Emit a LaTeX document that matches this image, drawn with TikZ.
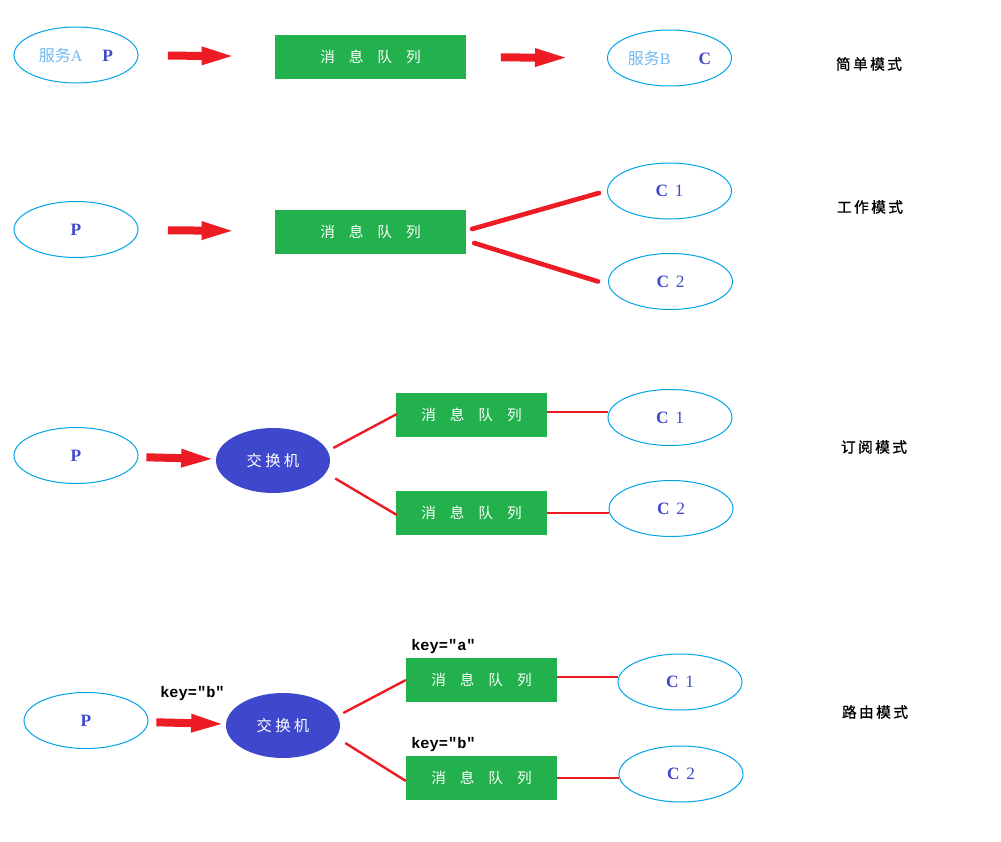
\documentclass[tikz,border=0pt]{standalone}
\usepackage{fontspec}
\setmainfont{Liberation Serif}
\newfontfamily\cjk{Noto Sans CJK SC}
\newfontfamily\cjkbold[FakeBold=1.2]{Noto Sans CJK SC}
\newfontfamily\keyfont[Ligatures=TeXOff]{Liberation Mono}
\usetikzlibrary{arrows.meta,shapes.geometric}
\definecolor{qgreen}{RGB}{34,177,76}
\definecolor{qred}{RGB}{237,28,36}
\definecolor{qblue}{RGB}{63,72,204}
\definecolor{eblue}{RGB}{0,162,232}
\definecolor{lblue}{RGB}{110,185,240}
\newcommand\mqtext{消\hspace{0.95em}息\hspace{0.95em}队\hspace{0.95em}列}
\newcommand\mctext[1]{\textbf{C}\hspace{5pt}#1}
\tikzset{
  client/.style={ellipse,draw=eblue,line width=0.75pt,minimum width=93pt,minimum height=42pt,inner sep=0pt,text=qblue,font=\fontsize{13}{15}\selectfont},
  queue/.style={fill=qgreen,minimum width=143pt,minimum height=33pt,inner sep=0pt,text=white,font=\cjk\fontsize{11}{13}\selectfont},
  queueshort/.style={queue,minimum width=113pt},
  switch/.style={ellipse,fill=qblue,minimum width=85.5pt,minimum height=48.75pt,inner sep=0pt,text=white,font=\cjk\fontsize{11.5}{13}\selectfont},
  modetitle/.style={font=\cjkbold\fontsize{11}{13}\selectfont},
  keylabel/.style={anchor=west,inner sep=0pt,font=\keyfont\bfseries\fontsize{11.5}{13}\selectfont},
  bigarrow/.style={qred,line width=6pt,-{Triangle[length=26pt,width=12pt]}},
  fatline/.style={qred,line width=3.5pt,line cap=round},
  thinline/.style={qred,line width=1.8pt}
}
\begin{document}
\begin{tikzpicture}[x=0.75pt,y=-0.75pt]
\useasboundingbox (0,0) rectangle (1001,842);
% simple mode
\node[client] (pa) at (76,55) {{\color{lblue}\fontsize{12}{14}\selectfont{\cjk 服务}A}\hspace{15pt}\textbf{P}};
\node[queue] (qa) at (370.5,57) {\mqtext};
\node[client] (ca) at (669.5,58) {{\color{lblue}\fontsize{12}{14}\selectfont{\cjk 服务}B}\hspace{21pt}\textbf{C}};
\node[modetitle] (ta) at (869,64) {简\,单\,模\,式};
\draw[bigarrow,shorten <=22pt,shorten >=29pt] (pa) -- (qa);
\draw[bigarrow,shorten <=26pt,shorten >=28pt] (qa) -- (ca);
% work mode
\node[client] (pb) at (76,229.5) {\textbf{P}};
\node[queue] (qb) at (370.5,232) {\mqtext};
\node[client] (cb1) at (669.5,191) {\mctext{1}};
\node[client] (cb2) at (670.5,281.5) {\mctext{2}};
\node[modetitle] (tb) at (870,207) {工\,作\,模\,式};
\draw[bigarrow,shorten <=22pt,shorten >=29pt] (pb) -- (qb);
\draw[fatline] ([shift={(6,-3)}]qb.east) -- ([shift={(-8,2)}]cb1.west);
\draw[fatline] ([shift={(8,11)}]qb.east) -- ([shift={(-10,0)}]cb2.west);
% publish/subscribe mode
\node[client] (pc) at (76,455.5) {\textbf{P}};
\node[switch] (xc) at (273,460.5) {交\hspace{2.5pt}换\hspace{2.5pt}机};
\node[queueshort] (qc1) at (471.5,415) {\mqtext};
\node[queueshort] (qc2) at (471.5,513) {\mqtext};
\node[client] (cc1) at (670,417.5) {\mctext{1}};
\node[client] (cc2) at (671,508.5) {\mctext{2}};
\node[modetitle] (tc) at (874,447) {订\,阅\,模\,式};
\draw[bigarrow,shorten <=6pt,shorten >=0pt] (pc) -- (xc);
\draw[thinline] ([shift={(3,-12.5)}]xc.east) -- ([shift={(1,-1)}]qc1.west);
\draw[thinline] ([shift={(5,18)}]xc.east) -- ([shift={(1,2)}]qc2.west);
\draw[thinline] ([shift={(0,-3)}]qc1.east) -- ([shift={(0,-3)}]qc1.east -| cc1.west);
\draw[thinline] (qc2.east) -- (qc2.east -| cc2.west);
% routing mode
\node[client] (pd) at (86,720.5) {\textbf{P}};
\node[keylabel] (kd) at (160,694) {key="b"};
\node[switch] (xd) at (283,725.5) {交\hspace{2.5pt}换\hspace{2.5pt}机};
\node[queueshort] (qd1) at (481.5,680) {\mqtext};
\node[keylabel] (kd1) at (411,647) {key="a"};
\node[queueshort] (qd2) at (481.5,778) {\mqtext};
\node[keylabel] (kd2) at (411,745) {key="b"};
\node[client] (cd1) at (680,682) {\mctext{1}};
\node[client] (cd2) at (681,774) {\mctext{2}};
\node[modetitle] (td) at (875,712) {路\,由\,模\,式};
\draw[bigarrow,shorten <=6pt,shorten >=0pt] (pd) -- (xd);
\draw[thinline] ([shift={(3,-12.5)}]xd.east) -- (qd1.west);
\draw[thinline] ([shift={(5,17.5)}]xd.east) -- ([shift={(0,3)}]qd2.west);
\draw[thinline] ([shift={(0,-3)}]qd1.east) -- ([shift={(0,-3)}]qd1.east -| cd1.west);
\draw[thinline] (qd2.east) -- (qd2.east -| cd2.west);
\end{tikzpicture}
\end{document}
